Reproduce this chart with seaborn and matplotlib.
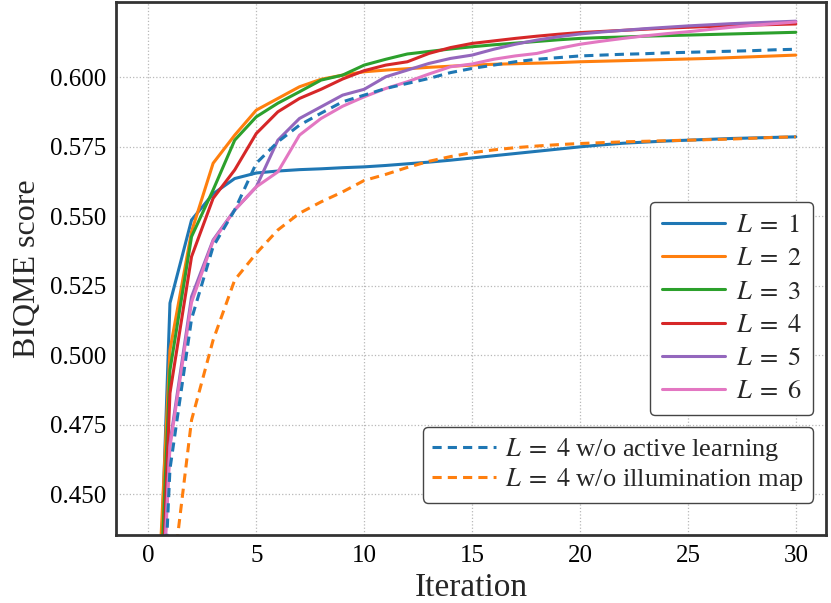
import numpy as np
import pandas as pd
import seaborn as sns
import matplotlib.pyplot as plt

iterations = list(range(31))

l1 = [0.293, 0.5187, 0.5486, 0.5580, 0.5635, 0.5655, 0.5662, 0.5667, 0.5670, 0.5674,
      0.5677, 0.5682, 0.5688, 0.5694, 0.5701, 0.5709, 0.5717, 0.5725, 0.5733, 0.5741,
      0.5749, 0.5756, 0.5762, 0.5766, 0.5770, 0.5773, 0.5776, 0.5779, 0.5781, 0.5783, 0.5785]
l2 = [0.339, 0.5018, 0.5444, 0.5690, 0.5791, 0.5881, 0.5923, 0.5965, 0.5992, 0.6007,
      0.6019, 0.6025, 0.6030, 0.6035, 0.6039, 0.6043, 0.6046, 0.6048, 0.6050, 0.6052,
      0.6055, 0.6057, 0.6059, 0.6061, 0.6063, 0.6065, 0.6067, 0.6070, 0.6073, 0.6076, 0.6079]
l3 = [0.315, 0.4946, 0.5426, 0.5594, 0.5773, 0.5857, 0.5906, 0.5947, 0.5989, 0.6007,
      0.6043, 0.6064, 0.6083, 0.6092, 0.6101, 0.6109, 0.6116, 0.6122, 0.6128, 0.6134,
      0.6139, 0.6142, 0.6144, 0.6147, 0.6149, 0.6151, 0.6153, 0.6155, 0.6157, 0.6159, 0.6161]
l4 = [0.290, 0.4863, 0.5354, 0.5564, 0.5666, 0.5797, 0.5875, 0.5923, 0.5956, 0.5993,
      0.6023, 0.6043, 0.6055, 0.6085, 0.6106, 0.6121, 0.6130, 0.6139, 0.6147, 0.6154,
      0.6160, 0.6164, 0.6168, 0.6172, 0.6176, 0.6179, 0.6182, 0.6184, 0.6187, 0.6189, 0.6191]
l5 = [0.311, 0.4683, 0.5210, 0.5414, 0.5522, 0.5605, 0.5773, 0.5851, 0.5893, 0.5935,
      0.5956, 0.6001, 0.6025, 0.6049, 0.6067, 0.6079, 0.6100, 0.6118, 0.6133, 0.6145,
      0.6155, 0.6162, 0.6168, 0.6174, 0.6179, 0.6184, 0.6188, 0.6192, 0.6195, 0.6198, 0.6201]
l6 = [0.305, 0.4670, 0.5190, 0.5410, 0.5522, 0.5605, 0.5659, 0.5791, 0.5851, 0.5895,
      0.5929, 0.5959, 0.5983, 0.6011, 0.6037, 0.6047, 0.6064, 0.6076, 0.6085, 0.6103,
      0.6118, 0.6129, 0.6139, 0.6148, 0.6156, 0.6163, 0.6171, 0.6179, 0.6186, 0.6192, 0.6198]
no_active = [0.290, 0.4590, 0.5130, 0.5390, 0.5522, 0.5690, 0.5767, 0.5827, 0.5870, 0.5911,
             0.5935, 0.5959, 0.5977, 0.5995, 0.6016, 0.6031, 0.6043, 0.6055, 0.6064, 0.6070,
             0.6076, 0.6079, 0.6082, 0.6084, 0.6087, 0.6089, 0.6091, 0.6093, 0.6095, 0.6098, 0.6100]
no_illum = [0.250, 0.4120, 0.4766, 0.5054, 0.5270, 0.5366, 0.5450, 0.5510, 0.5551, 0.5587,
            0.5628, 0.5650, 0.5675, 0.5697, 0.5714, 0.5728, 0.5738, 0.5746, 0.5752, 0.5757,
            0.5761, 0.5764, 0.5767, 0.5769, 0.5771, 0.5773, 0.5775, 0.5777, 0.5780, 0.5783, 0.5785]

solid_labels = [r'$L\;=\;1\,$', r'$L\;=\;2\,$', r'$L\;=\;3\,$', r'$L\;=\;4\,$', r'$L\;=\;5\,$', r'$L\;=\;6\,$']
dashed_labels = [r'$L\;=\;4$ w/o active learning', r'$L\;=\;4$ w/o illumination map']
colors = ['#1f77b4', '#ff7f0e', '#2ca02c', '#d62728', '#9467bd', '#e377c2']

sns.set_style("whitegrid")
plt.rcParams['font.family'] = ['Liberation Serif', 'DejaVu Serif']
plt.rcParams['mathtext.fontset'] = 'stix'

fig = plt.figure(figsize=(8.31, 6.03), dpi=100)
ax = fig.add_axes([0.1396, 0.1128, 0.8544, 0.8839])

solid_handles = []
for ys, lab, c in zip([l1, l2, l3, l4, l5, l6], solid_labels, colors):
    df = pd.DataFrame({'Iteration': iterations, 'score': ys})
    sns.lineplot(data=df, x='Iteration', y='score', color=c, linewidth=2.2, ax=ax, label=lab)
    solid_handles.append(ax.get_lines()[-1])

dashed_handles = []
for ys, lab, c in zip([no_active, no_illum], dashed_labels, [colors[0], colors[1]]):
    df = pd.DataFrame({'Iteration': iterations, 'score': ys})
    sns.lineplot(data=df, x='Iteration', y='score', color=c, linewidth=2.2,
                 linestyle=(0, (3, 2)), ax=ax, label=lab)
    dashed_handles.append(ax.get_lines()[-1])

ax.set_xlim(-1.5, 31.4)
ax.set_ylim(0.4353, 0.627)
ax.set_xticks([0, 5, 10, 15, 20, 25, 30])
ax.set_yticks([0.450, 0.475, 0.500, 0.525, 0.550, 0.575, 0.600])
ax.yaxis.set_major_formatter(plt.FuncFormatter(lambda v, p: f'{v:.3f}'))
ax.grid(True, linestyle=':', color='#b8b8b8', linewidth=0.9)
ax.tick_params(direction='in', length=4, width=1, colors='#333333', labelsize=18,
               labelcolor='black', pad=7)
for s in ax.spines.values():
    s.set_color('#333333')
    s.set_linewidth(2)

ax.set_xlabel('Iteration', fontsize=24, labelpad=4)
ax.set_ylabel('BIQME score', fontsize=23, labelpad=6)

leg1 = ax.legend(handles=solid_handles, labels=solid_labels, loc='upper right',
                 bbox_to_anchor=(0.982, 0.625), borderaxespad=0, fontsize=19, frameon=True,
                 edgecolor='#444444', fancybox=True, framealpha=1, handlelength=2.4,
                 handletextpad=0.4, labelspacing=0.37, borderpad=0.45)
leg1.get_frame().set_linewidth(1.0)
ax.add_artist(leg1)
leg2 = ax.legend(handles=dashed_handles, labels=dashed_labels, loc='upper right',
                 bbox_to_anchor=(0.982, 0.2026), borderaxespad=0, fontsize=19, frameon=True,
                 edgecolor='#444444', fancybox=True, framealpha=1, handlelength=2.4,
                 handletextpad=0.35, labelspacing=0.12, borderpad=0.35)
leg2.get_frame().set_linewidth(1.0)

fig.savefig('out.png', dpi=100)
